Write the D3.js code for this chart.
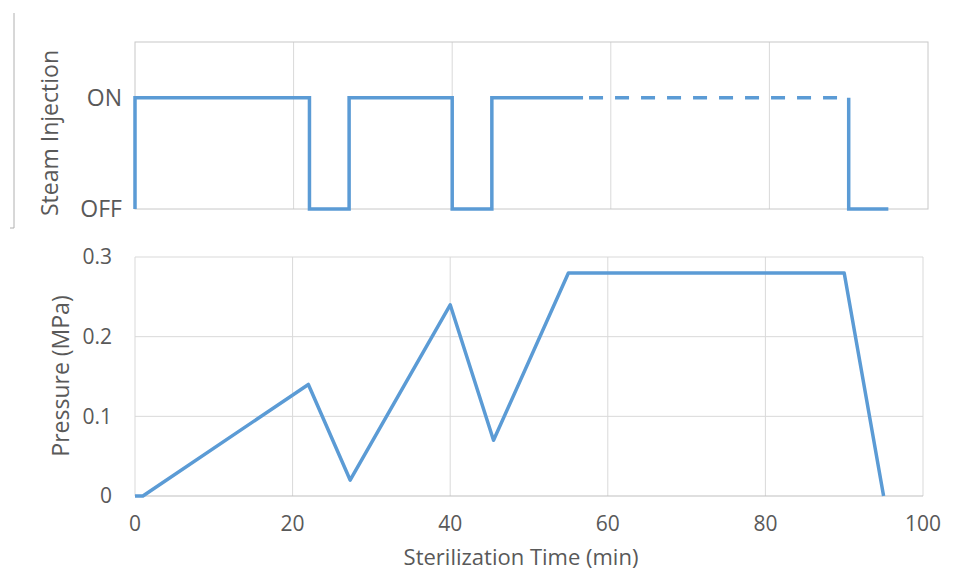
<!DOCTYPE html>
<html>
<head>
<meta charset="utf-8">
<script src="https://cdn.jsdelivr.net/npm/d3@7"></script>
<style>
  body { margin: 0; background: #fff; }
  text { font-family: "Open Sans", sans-serif; fill: #595959; }
</style>
</head>
<body>
<div class="canva"></div>
<script>
// steam injection: 1 = ON, 0 = OFF (solid, planned dashed part, then shut-off)
const steamTime = [0, 0, 22, 27, 40, 45, 56.5];
const steamState = [0, 1, 0, 1, 0, 1, 1];
const plannedTime = [56.5, 90];
const plannedState = [1, 1];
const offTime = [90, 90, 95];
const offState = [1, 0, 0];

// chamber pressure (MPa)
const pressTime = [0, 1, 22, 27.3, 40, 45.5, 55, 90, 95];
const pressValue = [0, 0, 0.14, 0.02, 0.24, 0.07, 0.28, 0.28, 0];

const xTicks = [0, 20, 40, 60, 80, 100];
const pTicks = [0, 0.1, 0.2, 0.3];
const steamLabels = ["OFF", "ON"];

const blue = "#5b9bd5";
const grid = "#d9d9d9";

const svg = d3.select(".canva").append("svg")
    .attr("width", 957)
    .attr("height", 575);

svg.append("rect").attr("width", 957).attr("height", 575).attr("fill", "#fff");

// stray frame line at far left of the original
svg.append("path")
    .attr("d", "M14,13V228H10")
    .attr("fill", "none")
    .attr("stroke", "#b0b0b0")
    .attr("stroke-width", 1);

// ---------- top panel ----------
const xTop = d3.scaleLinear().domain([0, 100]).range([135, 928]);
const yTop = d3.scaleLinear().domain([0, 1.5]).range([209, 42]);

const topG = svg.append("g");

topG.selectAll(".vg").data(xTicks.slice(1, -1)).join("line")
    .attr("x1", d => xTop(d)).attr("x2", d => xTop(d))
    .attr("y1", yTop(1.5)).attr("y2", yTop(0))
    .attr("stroke", grid);

topG.append("rect")
    .attr("x", xTop(0)).attr("y", yTop(1.5))
    .attr("width", xTop(100) - xTop(0))
    .attr("height", yTop(0) - yTop(1.5))
    .attr("fill", "none")
    .attr("stroke", "#c8c8c8");

topG.selectAll(".sl").data(steamLabels).join("text")
    .attr("x", 122)
    .attr("y", (d, i) => yTop(i))
    .attr("dy", "0.35em")
    .attr("text-anchor", "end")
    .attr("font-size", 23)
    .text(d => d);

topG.append("text")
    .attr("transform", "translate(58,133) rotate(-90)")
    .attr("text-anchor", "middle")
    .attr("font-size", 23)
    .text("Steam Injection");

const stepLine = d3.line()
    .x(d => xTop(d[0]))
    .y(d => yTop(d[1]))
    .curve(d3.curveStepAfter);

topG.append("path")
    .attr("d", stepLine(d3.zip(steamTime, steamState)))
    .attr("fill", "none").attr("stroke", blue).attr("stroke-width", 3.5);

topG.append("path")
    .attr("d", stepLine(d3.zip(plannedTime, plannedState)))
    .attr("fill", "none").attr("stroke", blue).attr("stroke-width", 3.5)
    .attr("stroke-dasharray", "14,12").attr("stroke-dashoffset", -6);

topG.append("path")
    .attr("d", stepLine(d3.zip(offTime, offState)))
    .attr("fill", "none").attr("stroke", blue).attr("stroke-width", 3.5);

// ---------- bottom panel ----------
const x = d3.scaleLinear().domain([0, 100]).range([135, 923]);
const y = d3.scaleLinear().domain([0, 0.3]).range([496, 257]);

const bot = svg.append("g");

bot.selectAll(".hg").data(pTicks.slice(1)).join("line")
    .attr("x1", x(0)).attr("x2", x(100))
    .attr("y1", d => y(d)).attr("y2", d => y(d))
    .attr("stroke", grid);

bot.selectAll(".vg").data(xTicks).join("line")
    .attr("x1", d => x(d)).attr("x2", d => x(d))
    .attr("y1", y(0.3)).attr("y2", y(0))
    .attr("stroke", grid);

bot.append("line")
    .attr("x1", x(0)).attr("x2", x(100))
    .attr("y1", y(0)).attr("y2", y(0))
    .attr("stroke", "#bfbfbf");

bot.selectAll(".yt").data(pTicks).join("text")
    .attr("x", 112)
    .attr("y", d => y(d))
    .attr("dy", "0.35em")
    .attr("text-anchor", "end")
    .attr("font-size", 21)
    .text(d => d3.format("")(d));

bot.selectAll(".xt").data(xTicks).join("text")
    .attr("x", d => x(d))
    .attr("y", 531)
    .attr("text-anchor", "middle")
    .attr("font-size", 21)
    .text(d => d);

bot.append("text")
    .attr("transform", "translate(69,376) rotate(-90)")
    .attr("text-anchor", "middle")
    .attr("font-size", 23)
    .text("Pressure (MPa)");

bot.append("text")
    .attr("x", 521)
    .attr("y", 565)
    .attr("text-anchor", "middle")
    .attr("font-size", 22)
    .text("Sterilization Time (min)");

const pLine = d3.line()
    .x(d => x(d[0]))
    .y(d => y(d[1]));

bot.append("path")
    .attr("d", pLine(d3.zip(pressTime, pressValue)))
    .attr("fill", "none")
    .attr("stroke", blue)
    .attr("stroke-width", 3.5)
    .attr("stroke-linejoin", "round");
</script>
</body>
</html>
